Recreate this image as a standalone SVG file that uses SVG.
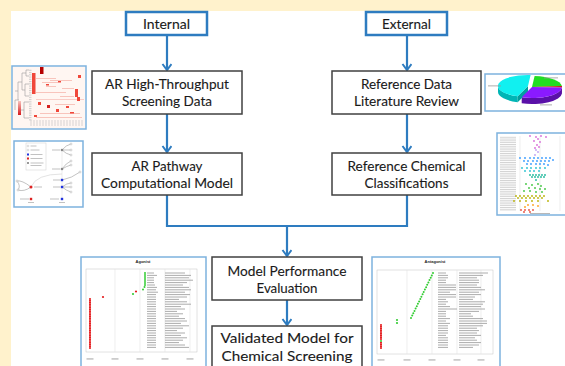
<svg xmlns="http://www.w3.org/2000/svg" width="565" height="366" viewBox="0 0 565 366">
<defs>
<style>
.lbl{font-family:Lato,"Open Sans","Liberation Sans",sans-serif;font-size:14px;fill:#1a1a1a;stroke:#1a1a1a;stroke-width:0.12;text-anchor:middle}
.node rect{fill:#fff;stroke:#404040;stroke-width:1.5}
.src rect{fill:#fff;stroke:#2E7CC0;stroke-width:2.5}
.conn path{fill:none;stroke:#2E7CC0;stroke-width:2.2}
.frame{fill:#fff;stroke:#7DB2DE;stroke-width:1.5}
.tiny{font-family:"Liberation Sans",Arial,sans-serif;font-size:4px;font-weight:bold;fill:#222;text-anchor:middle}
.grid{stroke:#e3e3e3;stroke-width:0.6}
.ed{fill:none;stroke:#9a9a9a;stroke-width:0.6}
.bar{fill:#9a9a9a}
.tl{fill:none;stroke:#a3a3a3;stroke-width:0.9}
.rd{fill:none;stroke:#e41a1c;stroke-width:2.1;stroke-linecap:round}
.g{fill:#33cc33}
.r{fill:#e41a1c}
</style>
<marker id="ah" markerUnits="userSpaceOnUse" markerWidth="10" markerHeight="12" refX="7" refY="5" orient="auto">
<path d="M1,0.5 L7,5 L1,9.5" fill="none" stroke="#2E7CC0" stroke-width="2"/>
</marker>
<pattern id="txtl" patternUnits="userSpaceOnUse" width="40" height="1.8">
<rect width="40" height="0.7" fill="#c4c4c4"/>
</pattern>
<linearGradient id="lg" x1="0" y1="0" x2="0" y2="1">
<stop offset="0" stop-color="#f7c3bd"/><stop offset="1" stop-color="#d7191c"/>
</linearGradient>
</defs>

<rect x="0" y="0" width="565" height="366" fill="#FFF2CC"/>
<rect x="11" y="11" width="554" height="355" fill="#fff"/>

<g id="connectors" class="conn">
<path d="M167,35 V70" marker-end="url(#ah)"/>
<path d="M167,114 V152" marker-end="url(#ah)"/>
<path d="M407,35 V70" marker-end="url(#ah)"/>
<path d="M407,114 V152" marker-end="url(#ah)"/>
<path d="M167,195 V226 H407 V195"/>
<path d="M287,226 V256" marker-end="url(#ah)"/>
<path d="M287,300 V325" marker-end="url(#ah)"/>
</g>

<g id="internal" class="src"><rect x="126" y="12" width="81" height="23"/><text class="lbl" x="166.5" y="29" textLength="47" lengthAdjust="spacingAndGlyphs">Internal</text></g>
<g id="external" class="src"><rect x="366" y="12" width="81" height="23"/><text class="lbl" x="406.5" y="29" textLength="49" lengthAdjust="spacingAndGlyphs">External</text></g>

<g id="ar-hts" class="node"><rect x="92" y="71" width="150" height="43"/>
<text class="lbl" x="167" y="89" textLength="124" lengthAdjust="spacingAndGlyphs">AR High-Throughput</text>
<text class="lbl" x="167" y="106" textLength="90" lengthAdjust="spacingAndGlyphs">Screening Data</text></g>

<g id="ar-model" class="node"><rect x="92" y="153" width="150" height="42"/>
<text class="lbl" x="167" y="171" textLength="71" lengthAdjust="spacingAndGlyphs">AR Pathway</text>
<text class="lbl" x="167" y="188" textLength="132" lengthAdjust="spacingAndGlyphs">Computational Model</text></g>

<g id="ref-data" class="node"><rect x="332" y="71" width="149" height="43"/>
<text class="lbl" x="406.5" y="89" textLength="91" lengthAdjust="spacingAndGlyphs">Reference Data</text>
<text class="lbl" x="406.5" y="106" textLength="105" lengthAdjust="spacingAndGlyphs">Literature Review</text></g>

<g id="ref-class" class="node"><rect x="332" y="153" width="149" height="42"/>
<text class="lbl" x="406.5" y="171" textLength="118" lengthAdjust="spacingAndGlyphs">Reference Chemical</text>
<text class="lbl" x="406.5" y="188" textLength="84" lengthAdjust="spacingAndGlyphs">Classifications</text></g>

<g id="evaluation" class="node"><rect x="212" y="257" width="150" height="43"/>
<text class="lbl" x="287" y="276" textLength="119" lengthAdjust="spacingAndGlyphs">Model Performance</text>
<text class="lbl" x="287" y="293" textLength="61" lengthAdjust="spacingAndGlyphs">Evaluation</text></g>

<g id="validated" class="node"><rect x="212" y="326" width="150" height="50"/>
<text class="lbl" x="287" y="343" textLength="133" lengthAdjust="spacingAndGlyphs">Validated Model for</text>
<text class="lbl" x="287" y="361" textLength="131" lengthAdjust="spacingAndGlyphs">Chemical Screening</text></g>

<!-- heatmap thumbnail -->
<g id="thumb-heatmap">
<rect class="frame" x="12" y="66" width="74" height="63"/>
<rect x="13" y="67" width="72" height="61" fill="#fff6f2"/>
<path class="ed" d="M29,70H26V76H29 M26,73H22V90 M29,84H25V96H29 M25,90H22 M22,82H18V100 M29,102H24V118H29 M24,110H19 M19,100H15V110 M18,91H15"/>
<rect x="29" y="69" width="2.5" height="52" fill="url(#txtl)"/>
<rect x="18" y="101" width="3" height="14" fill="url(#lg)"/>
<g fill="#f8c4bc">
<rect x="36" y="78" width="20" height="1"/><rect x="42" y="82" width="16" height="1"/><rect x="46" y="86" width="10" height="1"/>
<rect x="50" y="80" width="22" height="1"/><rect x="36" y="92" width="30" height="1"/><rect x="60" y="96" width="14" height="1"/>
<rect x="36" y="99" width="48" height="0.8"/><rect x="40" y="113" width="40" height="1"/><rect x="36" y="117" width="46" height="1"/>
<rect x="55" y="104" width="20" height="1"/><rect x="62" y="88" width="12" height="1"/>
</g>
<g fill="#f0473a">
<rect x="32" y="73" width="3.5" height="21"/>
<rect x="75" y="89" width="3" height="8"/>
<rect x="77" y="97" width="3" height="4"/>
<rect x="78" y="75" width="3" height="3"/>
<rect x="38" y="102" width="3" height="3"/>
<rect x="47" y="105" width="3" height="3" fill="#d42020"/>
<rect x="56" y="109" width="3" height="3"/>
<rect x="66" y="106" width="3" height="2"/>
<rect x="46" y="84" width="3" height="1.5"/>
<rect x="58" y="81" width="3" height="1.5"/>
<rect x="34" y="115" width="3" height="2"/>
<rect x="70" y="112" width="4" height="1.5"/>
</g>
<rect x="40" y="67" width="3.5" height="7" fill="#b50000"/>
<path d="M31,120v6 M34,120v6 M37,120v6 M40,120v6 M43,120v6 M46,120v6 M49,120v6 M52,120v6 M55,120v6 M58,120v6 M61,120v6 M64,120v6 M67,120v6 M70,120v6 M73,120v6 M76,120v6 M79,120v6 M82,120v6" stroke="#bdbdbd" stroke-width="0.6"/>
</g>

<!-- pathway thumbnail -->
<g id="thumb-pathway">
<rect class="frame" x="14" y="141" width="69" height="66"/>
<rect x="26" y="143" width="20" height="27" fill="none" stroke="#cfcfcf" stroke-width="0.5"/>
<circle cx="28" cy="146" r="0.9" fill="#fff" stroke="#aaa" stroke-width="0.4"/>
<circle cx="28" cy="150" r="0.9" fill="#fff" stroke="#aaa" stroke-width="0.4"/>
<rect x="27" y="153.5" width="2" height="2" fill="#2233dd"/>
<rect x="27" y="157.5" width="2" height="2" fill="#dd2222"/>
<rect x="27" y="162" width="2" height="2" fill="#999"/>
<g class="bar"><rect x="30.5" y="145.7" width="6" height="0.6"/><rect x="30.5" y="149.7" width="9" height="0.6"/><rect x="30.5" y="154.2" width="12" height="0.6"/><rect x="30.5" y="158.2" width="12" height="0.6"/><rect x="30.5" y="162.7" width="13" height="0.6"/><rect x="30.5" y="165" width="11" height="0.6"/></g>
<path d="M62,150V199" stroke="#e0e0e0" stroke-width="0.6"/>
<path class="ed" d="M62,150 Q66,145 71,144 M62,150 Q67,150 71,150 M62,150 Q66,154 71,155 M62,169 Q66,163 71,161 M62,169 Q67,166 71,165 M62,180 Q72,178 80,172 M62,187 Q67,183 71,183 M62,187 H71 M62,187 Q67,191 71,192 M31,187 Q22,180 17,181 M31,187 Q24,192 18,190 M17,181 Q21,186 18,190"/>
<path d="M31,187 Q36,174 62,174" fill="none" stroke="#d0d0d0" stroke-width="0.6"/>
<g fill="#fff" stroke="#999" stroke-width="0.4">
<circle cx="71" cy="144" r="1"/><circle cx="71" cy="150" r="1"/><circle cx="71" cy="155" r="1"/><circle cx="71" cy="161" r="1"/><circle cx="71" cy="165" r="1"/><circle cx="80" cy="172" r="1"/><circle cx="71" cy="183" r="1"/><circle cx="71" cy="187" r="1"/><circle cx="71" cy="192" r="1"/><circle cx="17" cy="181" r="1"/><circle cx="18" cy="190" r="1"/>
</g>
<circle cx="62" cy="150" r="1.3" fill="#888"/>
<circle cx="62" cy="169" r="1.3" fill="#888"/>
<rect x="60.8" y="178.8" width="2.4" height="2.4" fill="#2233dd"/>
<rect x="60.8" y="185.8" width="2.4" height="2.4" fill="#2233dd"/>
<circle cx="31" cy="187" r="1.5" fill="#dd2222"/>
<rect x="29.8" y="197.8" width="2.4" height="2.4" fill="#dd2222"/>
<rect x="60.8" y="197.8" width="2.4" height="2.4" fill="#2233dd"/>
<g class="bar"><rect x="52" y="149.7" width="8" height="0.6"/><rect x="52" y="168.7" width="8" height="0.6"/><rect x="53" y="179.7" width="7" height="0.6"/><rect x="53" y="186.7" width="7" height="0.6"/><rect x="34" y="186.7" width="8" height="0.6"/><rect x="20" y="198.7" width="9" height="0.6"/><rect x="50" y="198.7" width="9" height="0.6"/><rect x="28" y="202" width="6" height="0.6"/><rect x="59" y="202" width="6" height="0.6"/></g>
</g>

<!-- pie thumbnail -->
<g id="thumb-pie">
<rect class="frame" x="485" y="74" width="84" height="37"/>
<path d="M498,86 A30,11 0 0,0 517.7,96.3 L517.7,102.3 A30,11 0 0,1 498,92 Z" fill="#00b5b5"/>
<path d="M521.7,97.3 A30,11 0 0,0 561.96,87.58 L561.96,93.58 A30,11 0 0,1 521.7,103.3 Z" fill="#5a10a8"/>
<path d="M517.7,96.3 L528,86 L528,92 L517.7,102.3 Z" fill="#00a0a0"/>
<path d="M532,87 L534.6,76 A30,11 0 0,1 561.9,86 Z" fill="#22dd22"/>
<path d="M532,87 L561.9,86 A30,11 0 0,1 561.96,87.58 Z" fill="#cc1111"/>
<path d="M561.96,87.58 L562,87 L562,93 L561.96,93.58 Z" fill="#aa0000"/>
<path d="M532,87 L561.96,87.58 A30,11 0 0,1 521.7,97.3 Z" fill="#8a1aff"/>
<path d="M528,86 L517.7,96.3 A30,11 0 0,1 530.6,75 Z" fill="#11f0f0"/>
<g class="bar"><rect x="488" y="85.5" width="13" height="0.8"/><rect x="544" y="77.5" width="14" height="0.8"/><rect x="540" y="104.5" width="12" height="0.8"/></g>
</g>

<!-- class scatter thumbnail -->
<g id="thumb-scatter">
<rect class="frame" x="497" y="133" width="70" height="82"/>
<rect x="500" y="136" width="16" height="75" fill="url(#txtl)"/>
<path d="M520,136V211 M540,136V211 M560,136V211" class="grid"/>
<g fill="#d86bd8"><circle cx="530" cy="136" r="0.9"/><circle cx="536" cy="137" r="0.9"/><circle cx="541" cy="136" r="0.9"/><circle cx="546" cy="137" r="0.9"/><circle cx="538" cy="139" r="0.9"/><circle cx="534" cy="141" r="0.9"/><circle cx="540" cy="142" r="0.9"/><circle cx="537" cy="145" r="0.9"/><circle cx="535" cy="148" r="0.9"/><circle cx="539" cy="147" r="0.9"/></g>
<g fill="#c09cf2"><circle cx="536" cy="150" r="0.9"/><circle cx="538" cy="152" r="0.9"/><circle cx="535" cy="155" r="0.9"/></g>
<g fill="#3399ff"><circle cx="520" cy="158" r="0.9"/><circle cx="525" cy="158" r="0.9"/><circle cx="530" cy="158" r="0.9"/><circle cx="534" cy="158" r="0.9"/><circle cx="538" cy="158" r="0.9"/><circle cx="542" cy="158" r="0.9"/><circle cx="546" cy="158" r="0.9"/><circle cx="550" cy="158" r="0.9"/><circle cx="524" cy="161" r="0.9"/><circle cx="528" cy="161" r="0.9"/><circle cx="533" cy="161" r="0.9"/><circle cx="537" cy="161" r="0.9"/><circle cx="541" cy="161" r="0.9"/><circle cx="545" cy="161" r="0.9"/><circle cx="549" cy="161" r="0.9"/><circle cx="553" cy="160" r="0.9"/><circle cx="527" cy="164" r="0.9"/><circle cx="531" cy="164" r="0.9"/><circle cx="536" cy="164" r="0.9"/><circle cx="540" cy="164" r="0.9"/><circle cx="544" cy="164" r="0.9"/><circle cx="548" cy="165" r="0.9"/></g>
<g fill="#22c0d0"><circle cx="522" cy="168" r="0.9"/><circle cx="527" cy="168" r="0.9"/><circle cx="531" cy="168" r="0.9"/><circle cx="536" cy="168" r="0.9"/><circle cx="540" cy="168" r="0.9"/><circle cx="545" cy="168" r="0.9"/><circle cx="525" cy="171" r="0.9"/><circle cx="530" cy="171" r="0.9"/><circle cx="534" cy="171" r="0.9"/><circle cx="539" cy="171" r="0.9"/></g>
<g fill="#1ab89a"><circle cx="530" cy="175" r="0.9"/><circle cx="533" cy="175" r="0.9"/><circle cx="536" cy="175" r="0.9"/><circle cx="539" cy="175" r="0.9"/><circle cx="542" cy="175" r="0.9"/><circle cx="545" cy="175" r="0.9"/><circle cx="532" cy="177" r="0.9"/><circle cx="535" cy="177" r="0.9"/><circle cx="538" cy="177" r="0.9"/><circle cx="541" cy="177" r="0.9"/><circle cx="544" cy="177" r="0.9"/><circle cx="536" cy="180" r="0.9"/></g>
<g fill="#3cc43c"><circle cx="526" cy="184" r="0.9"/><circle cx="532" cy="185" r="0.9"/><circle cx="538" cy="184" r="0.9"/><circle cx="541" cy="186" r="0.9"/><circle cx="529" cy="188" r="0.9"/><circle cx="535" cy="188" r="0.9"/><circle cx="540" cy="189" r="0.9"/><circle cx="545" cy="189" r="0.9"/><circle cx="524" cy="191" r="0.9"/><circle cx="530" cy="191" r="0.9"/><circle cx="536" cy="192" r="0.9"/><circle cx="542" cy="192" r="0.9"/></g>
<g fill="#b8b000"><circle cx="516" cy="196" r="0.9"/><circle cx="520" cy="196" r="0.9"/><circle cx="524" cy="196" r="0.9"/><circle cx="528" cy="196" r="0.9"/><circle cx="532" cy="196" r="0.9"/><circle cx="536" cy="196" r="0.9"/><circle cx="540" cy="196" r="0.9"/><circle cx="544" cy="196" r="0.9"/><circle cx="518" cy="198" r="0.9"/><circle cx="522" cy="198" r="0.9"/><circle cx="526" cy="198" r="0.9"/><circle cx="530" cy="198" r="0.9"/><circle cx="534" cy="198" r="0.9"/><circle cx="538" cy="198" r="0.9"/><circle cx="542" cy="198" r="0.9"/><circle cx="514" cy="201" r="0.9"/><circle cx="520" cy="201" r="0.9"/><circle cx="526" cy="201" r="0.9"/><circle cx="532" cy="201" r="0.9"/><circle cx="538" cy="201" r="0.9"/><circle cx="548" cy="201" r="0.9"/></g>
<g fill="#ff9f1c"><circle cx="528" cy="205" r="0.9"/><circle cx="533" cy="205" r="0.9"/><circle cx="538" cy="206" r="0.9"/><circle cx="525" cy="207" r="0.9"/></g>
<g fill="#e74c3c"><circle cx="521" cy="210" r="0.9"/><circle cx="525" cy="210" r="0.9"/><circle cx="529" cy="210" r="0.9"/><circle cx="533" cy="210" r="0.9"/><circle cx="524" cy="212" r="0.9"/><circle cx="530" cy="212" r="0.9"/></g>
<rect class="bar" x="530" y="213.2" width="20" height="0.7"/>
</g>

<!-- agonist thumbnail -->
<g id="thumb-agonist">
<rect class="frame" x="81" y="257" width="125" height="115"/>
<text class="tiny" x="143" y="263">Agonist</text>
<rect x="86" y="269" width="111" height="83" fill="none" stroke="#c4c4c4" stroke-width="0.5"/>
<path class="grid" d="M115,269V352 M140,269V352 M165,269V352 M190,269V352"/>
<path class="rd" d="M90 299v0M90 300.75v0M90 302.5v0M90 304.25v0M90 306v0M90 307.75v0M90 309.5v0M90 311.25v0M90 313v0M90 314.75v0M90 316.5v0M90 318.25v0M90 320v0M90 321.75v0M90 323.5v0M90 325.25v0M90 327v0M90 328.75v0M90 330.5v0M90 332.25v0M90 334v0M90 335.75v0M90 337.5v0M90 339.25v0M90 341v0M90 342.75v0M90 344.5v0M90 346.25v0M90 348v0"/>
<g class="g"><circle cx="145" cy="273" r="1"/><circle cx="145" cy="275" r="1"/><circle cx="145" cy="277" r="1"/><circle cx="145" cy="279" r="1"/><circle cx="145" cy="281" r="1"/><circle cx="145" cy="283" r="1"/><circle cx="145" cy="285" r="1"/><circle cx="144.5" cy="287" r="1"/><circle cx="143" cy="289.5" r="1"/><circle cx="133" cy="294" r="1.1"/></g>
<g class="r"><circle cx="136" cy="291.5" r="1.1"/><circle cx="103" cy="297" r="1.1"/></g>
<path class="tl" d="M147 273h7M147 275.4h10M147 277.8h7M147 280.2h7M147 282.6h7M147 285h8M147 287.4h10M147 289.8h9M147 292.2h11M147 294.6h9M147 297h9M147 299.4h9M147 301.8h9M147 304.2h9M147 306.6h9M147 309h9M147 311.4h9M147 313.8h9M147 316.2h9M147 318.6h9M147 321h9M147 323.4h9M147 325.8h9M147 328.2h9M147 330.6h9M147 333h9M147 335.4h9M147 337.8h9M147 340.2h9M147 342.6h9M147 345h9M147 347.4h9"/>
<path class="tl" d="M165 273h20M165 275.4h26M165 277.8h24M165 280.2h28M165 282.6h22M165 285h18M165 287.4h24M165 289.8h26M165 292.2h20M165 294.6h25M165 297h22M165 299.4h14M165 301.8h22M165 304.2h26M165 306.6h16M165 309h20M165 311.4h12M165 313.8h18M165 316.2h14M165 318.6h20M165 321h22M165 323.4h16M165 325.8h24M165 328.2h18M165 330.6h12M165 333h20M165 335.4h16M165 337.8h22M165 340.2h18M165 342.6h14M165 345h20M165 347.4h24"/>
<g class="bar"><rect x="86.5" y="358.5" width="7" height="0.9"/><rect x="111.5" y="358.5" width="7" height="0.9"/><rect x="136.5" y="358.5" width="7" height="0.9"/><rect x="161.5" y="358.5" width="7" height="0.9"/><rect x="186.5" y="358.5" width="7" height="0.9"/></g>
</g>

<!-- antagonist thumbnail -->
<g id="thumb-antagonist">
<rect class="frame" x="372" y="257" width="128" height="115"/>
<text class="tiny" x="435" y="263">Antagonist</text>
<rect x="377" y="270" width="116" height="84" fill="none" stroke="#c4c4c4" stroke-width="0.5"/>
<path class="grid" d="M407,270V354 M432,270V354 M457,270V354 M481,270V354"/>
<path class="rd" d="M381 325v0M381 326.75v0M381 328.5v0M381 330.25v0M381 332v0M381 333.75v0M381 335.5v0M381 337.25v0M381 339v0M381 342.75v0M381 344.5v0M381 346.25v0M381 348v0"/>
<circle class="g" cx="381" cy="341" r="1"/>
<g class="g"><circle cx="397" cy="320" r="1.1"/><circle cx="397" cy="323" r="1.1"/>
<circle cx="411" cy="318" r="1"/><circle cx="412.2" cy="315.6" r="1"/><circle cx="413.3" cy="313.3" r="1"/><circle cx="414.5" cy="310.9" r="1"/><circle cx="415.6" cy="308.5" r="1"/><circle cx="416.8" cy="306.2" r="1"/><circle cx="417.9" cy="303.8" r="1"/><circle cx="419.1" cy="301.4" r="1"/><circle cx="420.3" cy="299.1" r="1"/><circle cx="421.4" cy="296.7" r="1"/><circle cx="422.6" cy="294.3" r="1"/><circle cx="423.7" cy="291.9" r="1"/><circle cx="424.9" cy="289.6" r="1"/><circle cx="426.1" cy="287.2" r="1"/><circle cx="427.2" cy="284.8" r="1"/><circle cx="428.4" cy="282.5" r="1"/><circle cx="429.5" cy="280.1" r="1"/><circle cx="430.7" cy="277.7" r="1"/><circle cx="431.8" cy="275.4" r="1"/><circle cx="433" cy="273" r="1"/></g>
<path class="tl" d="M438 273h8M438 275.4h10M438 277.8h10M438 280.2h8M438 282.6h8M438 285h18M438 287.4h18M438 289.8h18M438 292.2h12M438 294.6h18M438 297h18M438 299.4h8M438 301.8h10M438 304.2h8M438 306.6h12M438 309h19M438 311.4h8M438 313.8h8M438 316.2h8M438 318.6h12M438 321h8M438 323.4h12M438 325.8h10M438 328.2h10M438 330.6h10M438 333h10M438 335.4h8M438 337.8h10M438 340.2h10M438 342.6h10M438 345h10M438 347.4h10"/>
<path class="tl" d="M459 273h29M459 275.4h24M459 277.8h18M459 280.2h20M459 282.6h20M459 285h18M459 287.4h22M459 289.8h26M459 292.2h20M459 294.6h22M459 297h16M459 299.4h14M459 301.8h26M459 304.2h24M459 306.6h22M459 309h26M459 311.4h20M459 313.8h12M459 316.2h14M459 318.6h24M459 321h28M459 323.4h28M459 325.8h24M459 328.2h18M459 330.6h20M459 333h18M459 335.4h22M459 337.8h16M459 340.2h18M459 342.6h22M459 345h20M459 347.4h14"/>
<g class="bar"><rect x="377.5" y="359.5" width="7" height="0.9"/><rect x="403.5" y="359.5" width="7" height="0.9"/><rect x="428.5" y="359.5" width="7" height="0.9"/><rect x="453.5" y="359.5" width="7" height="0.9"/><rect x="477.5" y="359.5" width="7" height="0.9"/></g>
</g>
</svg>
